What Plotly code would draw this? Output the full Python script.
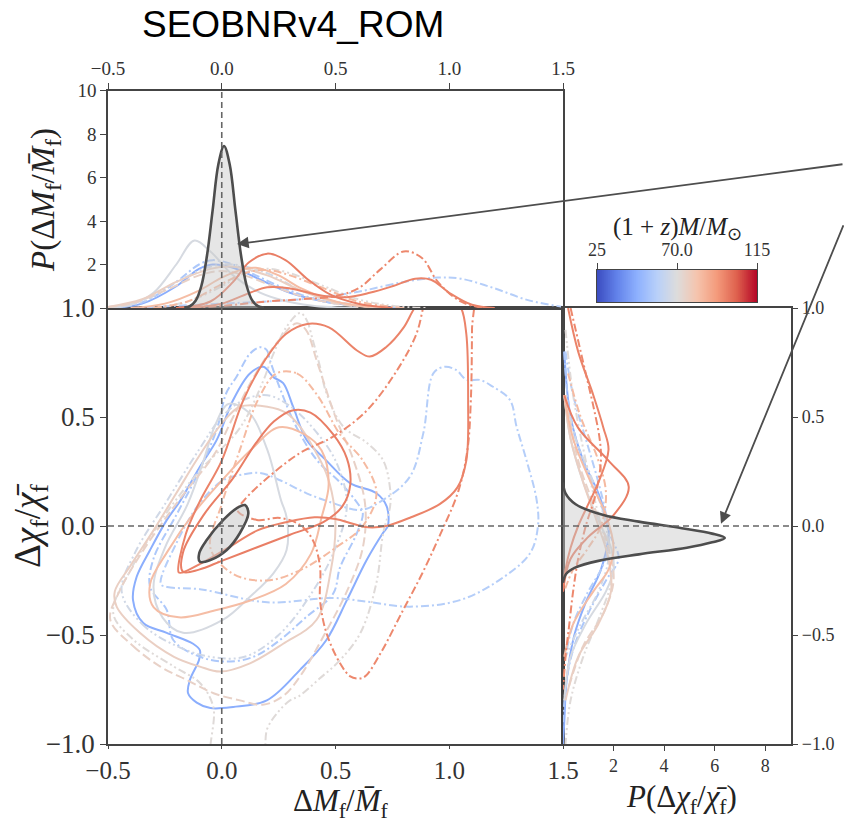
import numpy as np
import plotly.graph_objects as go
from plotly.colors import sample_colorscale

# ---------------------------------------------------------------------------
# Data
# ---------------------------------------------------------------------------
# Redshifted total mass (1+z)M/Msun of each simulated event
masses = [97, 96, 58, 47, 56, 68, 83, 98, 71, 75, 66, 84, 76]

# 90% credible contours in the (dM_f/M_f, dchi_f/chi_f) plane
contour_dm = [
    [-0.189, -0.158, -0.095, 0.0, 0.094, 0.188, 0.282, 0.376, 0.471, 0.596, 0.651, 0.722, 0.80, 0.848, 0.9, 1.0,
     1.052, 1.075, 1.083, 1.075, 1.036, 0.958, 0.832, 0.722, 0.643, 0.58, 0.50, 0.408, 0.282, 0.157, 0.031,
     -0.095, -0.173, -0.189],
    [0.07, 0.154, 0.256, 0.344, 0.40, 0.432, 0.432, 0.46, 0.52, 0.565, 0.60, 0.63, 0.70, 0.79, 0.88, 0.96, 1.04,
     1.08, 1.095, 1.10, 1.10, 1.0, 0.9, 0.885, 0.857, 0.78, 0.638, 0.489, 0.344, 0.2, 0.1, 0.07],
    [-0.268, -0.24, -0.096, 0.2, 0.49, 0.637, 0.827, 1.047, 1.22, 1.355, 1.39, 1.384, 1.34, 1.296, 1.267, 1.19,
     1.135, 1.077, 1.03, 0.978, 0.93, 0.886, 0.827, 0.71, 0.61, 0.49, 0.373, 0.256, 0.168, 0.08, 0.006, -0.1,
     -0.2, -0.268],
    [0.183, 0.227, 0.27, 0.314, 0.373, 0.46, 0.564, 0.68, 0.725, 0.73, 0.71, 0.637, 0.55, 0.46, 0.344, 0.198, 0.05,
     -0.05, -0.11, -0.148, -0.14, -0.10, -0.096, -0.126, -0.242, -0.345, -0.39, -0.374, -0.315, -0.242, -0.18,
     -0.096, -0.022, 0.05, 0.124, 0.183],
    [0.168, 0.198, 0.212, 0.26, 0.33, 0.42, 0.52, 0.6, 0.62, 0.593, 0.52, 0.49, 0.373, 0.256, 0.14, 0.022, -0.096,
     -0.213, -0.242, -0.315, -0.30, -0.2, -0.1, -0.02, 0.02, 0.065, 0.124, 0.168],
    [0.03, 0.12, 0.2, 0.26, 0.285, 0.285, 0.227, 0.124, 0.006, -0.17, -0.26, -0.3, -0.25, -0.15, -0.08, -0.03, 0.03],
    [0.251, 0.361, 0.439, 0.47, 0.439, 0.392, 0.282, 0.125, -0.032, -0.189, -0.299, -0.315, -0.236, -0.126, 0.0,
     0.125, 0.251],
    [0.31, 0.39, 0.49, 0.55, 0.565, 0.53, 0.45, 0.3, 0.15, 0.0, -0.1, -0.17, -0.17, -0.08, 0.05, 0.15, 0.23, 0.31],
    [0.344, 0.373, 0.40, 0.432, 0.46, 0.535, 0.64, 0.71, 0.74, 0.74, 0.71, 0.68, 0.61, 0.52, 0.43, 0.34, 0.30,
     0.25, 0.20, 0.17, -0.037, -0.037, -0.096, -0.21, -0.39, -0.477, -0.40, -0.25, -0.1, 0.08, 0.18, 0.227, 0.285,
     0.344],
    [-0.49, -0.39, -0.27, -0.154, -0.036, 0.08, 0.18, 0.27, 0.344, 0.45, 0.55, 0.62, 0.63, 0.58, 0.5, 0.42, 0.37,
     0.33, 0.25, 0.15, 0.05, -0.032, -0.19, -0.346, -0.45, -0.49],
    [-0.44, -0.35, -0.2, -0.05, 0.1, 0.25, 0.4, 0.5, 0.55, 0.5, 0.4, 0.3, 0.2, 0.1, 0.0, -0.1, -0.25, -0.38, -0.44],
    [0.24, 0.33, 0.42, 0.52, 0.62, 0.68, 0.62, 0.5, 0.35, 0.2, 0.05, -0.05, 0.0, 0.08, 0.16, 0.24],
    [0.08, 0.2, 0.285, 0.344, 0.40, 0.46, 0.49, 0.5, 0.48, 0.417, 0.27, 0.124, -0.007, -0.096, -0.21, -0.36,
     -0.462, -0.47, -0.4, -0.3, -0.2, -0.1, 0.0, 0.08],
]
contour_dchi = [
    [-0.213, -0.037, 0.116, 0.30, 0.575, 0.758, 0.881, 0.927, 0.911, 0.804, 0.777, 0.82, 0.911, 1.0, 1.06, 1.06,
     1.0, 0.881, 0.575, 0.30, 0.177, 0.10, 0.04, 0.0, -0.006, 0.009, 0.032, 0.04, 0.017, -0.02, -0.098, -0.174,
     -0.213, -0.213],
    [0.07, 0.028, 0.037, 0.005, -0.064, -0.188, -0.34, -0.49, -0.63, -0.69, -0.70, -0.69, -0.58, -0.40, -0.22,
     -0.04, 0.16, 0.35, 0.58, 0.9, 1.06, 1.08, 1.06, 1.0, 0.885, 0.73, 0.53, 0.41, 0.335, 0.22, 0.12, 0.07],
    [-0.266, -0.28, -0.29, -0.35, -0.33, -0.347, -0.37, -0.34, -0.248, -0.125, 0.0, 0.12, 0.30, 0.455, 0.578, 0.64,
     0.67, 0.67, 0.716, 0.73, 0.70, 0.426, 0.226, 0.12, 0.073, 0.105, 0.15, 0.21, 0.243, 0.234, 0.21, 0.1, -0.08,
     -0.266],
    [0.73, 0.683, 0.655, 0.546, 0.395, 0.30, 0.197, 0.15, 0.09, 0.0, -0.03, -0.156, -0.34, -0.523, -0.66, -0.80,
     -0.83, -0.835, -0.81, -0.767, -0.706, -0.615, -0.57, -0.54, -0.49, -0.445, -0.34, -0.233, -0.11, 0.027, 0.12,
     0.272, 0.395, 0.578, 0.70, 0.73],
    [0.82, 0.807, 0.76, 0.62, 0.45, 0.30, 0.20, 0.10, 0.06, -0.035, -0.19, -0.31, -0.416, -0.523, -0.60, -0.622,
     -0.60, -0.523, -0.385, -0.28, -0.15, 0.05, 0.25, 0.45, 0.61, 0.685, 0.79, 0.82],
    [0.56, 0.52, 0.35, 0.12, 0.04, -0.11, -0.217, -0.325, -0.43, -0.49, -0.42, -0.28, -0.1, 0.1, 0.3, 0.46, 0.56],
    [0.453, 0.422, 0.346, 0.193, 0.04, -0.128, -0.266, -0.342, -0.388, -0.419, -0.373, -0.266, -0.113, 0.055,
     0.208, 0.346, 0.453],
    [0.53, 0.52, 0.42, 0.31, 0.19, 0.09, 0.02, -0.04, -0.1, -0.16, -0.2, -0.21, -0.12, 0.05, 0.22, 0.38, 0.48, 0.53],
    [0.977, 0.945, 0.853, 0.73, 0.61, 0.455, 0.38, 0.30, 0.17, 0.09, -0.03, -0.26, -0.49, -0.615, -0.70, -0.78,
     -0.80, -0.85, -0.93, -1.1, -1.1, -0.83, -0.72, -0.645, -0.52, -0.40, -0.2, 0.05, 0.25, 0.45, 0.66, 0.79,
     0.914, 0.977],
    [-0.43, -0.55, -0.645, -0.706, -0.767, -0.80, -0.82, -0.78, -0.69, -0.5, -0.3, -0.1, 0.1, 0.3, 0.5, 0.75, 0.9,
     0.93, 0.85, 0.7, 0.5, 0.33, 0.116, -0.113, -0.3, -0.43],
    [-0.3, -0.45, -0.55, -0.6, -0.6, -0.5, -0.3, -0.1, 0.1, 0.3, 0.45, 0.55, 0.6, 0.58, 0.5, 0.35, 0.1, -0.12, -0.3],
    [0.70, 0.70, 0.6, 0.42, 0.3, 0.15, 0.0, -0.1, -0.2, -0.25, -0.22, -0.1, 0.1, 0.35, 0.58, 0.70],
    [0.547, 0.547, 0.518, 0.456, 0.364, 0.24, 0.12, 0.0, -0.2, -0.43, -0.54, -0.63, -0.668, -0.645, -0.6, -0.49,
     -0.37, -0.3, -0.18, -0.02, 0.15, 0.32, 0.47, 0.547],
]

# Marginal posterior of dM_f/M_f for each event
top_dm = [
    [-0.15, 0.0, 0.1, 0.2, 0.3, 0.45, 0.55, 0.65, 0.75, 0.85, 0.92, 1.0, 1.1, 1.2],
    [-0.2, 0.0, 0.2, 0.35, 0.5, 0.6, 0.7, 0.8, 0.88, 0.95, 1.05, 1.15],
    [-0.4, -0.2, 0.0, 0.2, 0.4, 0.6, 0.8, 0.95, 1.05, 1.2, 1.35, 1.5],
    [-0.5, -0.35, -0.2, -0.1, -0.04, 0.05, 0.15, 0.3, 0.45, 0.6, 0.8],
    [-0.5, -0.35, -0.2, -0.1, -0.04, 0.05, 0.15, 0.3, 0.45, 0.6, 0.8],
    [-0.5, -0.4, -0.3, -0.2, -0.12, -0.05, 0.05, 0.15, 0.25, 0.4, 0.6],
    [-0.4, -0.25, -0.1, 0.0, 0.1, 0.15, 0.25, 0.35, 0.5, 0.65],
    [-0.2, -0.05, 0.05, 0.12, 0.2, 0.28, 0.38, 0.48, 0.6, 0.75],
    [-0.3, -0.15, 0.0, 0.1, 0.2, 0.3, 0.45, 0.6, 0.75, 0.9],
    [-0.5, -0.4, -0.25, -0.1, 0.0, 0.1, 0.25, 0.4, 0.6],
    [-0.5, -0.35, -0.2, -0.05, 0.05, 0.2, 0.35, 0.5, 0.7],
    [-0.3, -0.15, 0.0, 0.1, 0.2, 0.3, 0.45, 0.6, 0.8],
    [-0.5, -0.35, -0.2, -0.05, 0.05, 0.2, 0.35, 0.5, 0.7],
]
top_p = [
    [0.0, 0.2, 0.6, 0.95, 0.9, 0.55, 0.5, 0.7, 1.0, 1.35, 1.3, 0.7, 0.15, 0.0],
    [0.0, 0.1, 0.3, 0.4, 0.55, 0.9, 1.8, 2.6, 2.3, 1.2, 0.3, 0.0],
    [0.0, 0.1, 0.2, 0.3, 0.45, 0.75, 1.2, 1.4, 1.35, 0.9, 0.35, 0.05],
    [0.0, 0.2, 1.0, 1.8, 2.0, 1.85, 1.4, 0.7, 0.3, 0.1, 0.0],
    [0.0, 0.25, 1.2, 2.0, 2.2, 2.0, 1.5, 0.8, 0.3, 0.1, 0.0],
    [0.02, 0.15, 0.7, 2.0, 3.1, 2.6, 1.5, 0.8, 0.4, 0.1, 0.0],
    [0.0, 0.2, 0.8, 1.4, 1.8, 1.85, 1.5, 0.9, 0.3, 0.05],
    [0.0, 0.3, 1.2, 2.1, 2.5, 2.2, 1.3, 0.6, 0.2, 0.0],
    [0.0, 0.3, 1.0, 1.6, 1.8, 1.6, 1.0, 0.4, 0.1, 0.0],
    [0.05, 0.2, 0.8, 1.5, 1.7, 1.5, 0.9, 0.4, 0.05],
    [0.05, 0.3, 1.2, 1.9, 2.0, 1.6, 0.8, 0.3, 0.0],
    [0.0, 0.3, 1.1, 1.6, 1.75, 1.5, 0.9, 0.3, 0.0],
    [0.05, 0.4, 1.2, 1.8, 1.9, 1.5, 0.8, 0.25, 0.0],
]

# Marginal posterior of dchi_f/chi_f for each event
right_dchi = [
    [1.0, 0.8, 0.6, 0.45, 0.35, 0.2, 0.1, 0.0, -0.1, -0.2, -0.3],
    [1.0, 0.85, 0.7, 0.55, 0.4, 0.3, 0.15, 0.0, -0.15, -0.3, -0.45, -0.6, -0.75],
    [0.8, 0.6, 0.4, 0.2, 0.05, -0.1, -0.2, -0.3, -0.45, -0.6],
    [0.8, 0.5, 0.3, 0.15, 0.0, -0.05, -0.2, -0.35, -0.5, -0.7, -0.9, -1.0],
    [0.8, 0.5, 0.3, 0.1, -0.05, -0.15, -0.25, -0.4, -0.55, -0.7, -0.9],
    [0.6, 0.4, 0.2, 0.0, -0.1, -0.2, -0.3, -0.45, -0.6, -0.8],
    [0.6, 0.4, 0.2, 0.05, -0.1, -0.2, -0.3, -0.45, -0.6],
    [0.6, 0.45, 0.3, 0.18, 0.05, -0.05, -0.15, -0.3],
    [0.9, 0.6, 0.3, 0.1, -0.1, -0.25, -0.4, -0.6, -0.8, -1.0],
    [0.6, 0.3, 0.1, -0.1, -0.25, -0.4, -0.55, -0.75],
    [0.6, 0.4, 0.2, 0.0, -0.15, -0.3, -0.45, -0.6],
    [0.7, 0.5, 0.3, 0.15, 0.0, -0.1, -0.2, -0.3],
    [0.6, 0.4, 0.2, 0.0, -0.15, -0.3, -0.45, -0.6, -0.8],
]
right_p = [
    [0.2, 0.6, 1.2, 1.6, 1.8, 1.4, 1.0, 0.6, 0.3, 0.1, 0.0],
    [0.3, 0.6, 0.9, 1.2, 1.45, 1.5, 1.3, 0.9, 0.6, 0.4, 0.25, 0.1, 0.0],
    [0.1, 0.4, 0.9, 1.4, 1.7, 1.8, 1.5, 1.0, 0.4, 0.1],
    [0.05, 0.3, 0.8, 1.4, 1.8, 1.8, 1.5, 0.9, 0.45, 0.15, 0.05, 0.0],
    [0.05, 0.3, 0.8, 1.5, 1.9, 2.2, 1.7, 1.0, 0.45, 0.15, 0.0],
    [0.05, 0.3, 0.8, 1.5, 1.9, 2.0, 1.7, 0.9, 0.3, 0.05],
    [0.05, 0.4, 1.1, 1.7, 2.0, 1.8, 1.2, 0.4, 0.05],
    [0.05, 0.6, 1.8, 2.6, 2.0, 1.0, 0.3, 0.0],
    [0.1, 0.4, 0.9, 1.3, 1.7, 1.9, 1.5, 0.8, 0.3, 0.1],
    [0.1, 0.6, 1.2, 1.8, 2.0, 1.6, 0.8, 0.2],
    [0.1, 0.5, 1.2, 1.7, 1.8, 1.4, 0.7, 0.1],
    [0.2, 0.7, 1.4, 1.7, 1.5, 1.0, 0.4, 0.05],
    [0.05, 0.3, 0.8, 1.4, 1.8, 1.9, 1.4, 0.6, 0.1],
]

# Combined (reference) posterior
ref_contour_dm = [0.102, 0.117, 0.08, 0.022, -0.05, -0.096, -0.099, -0.066, 0.007, 0.065, 0.102]
ref_contour_dchi = [0.096, 0.058, -0.032, -0.11, -0.156, -0.164, -0.125, -0.064, 0.028, 0.081, 0.096]
ref_top_dm = [-0.165, -0.14, -0.115, -0.09, -0.065, -0.04, -0.015, 0.01, 0.035, 0.06, 0.085, 0.11, 0.135, 0.16, 0.185]
ref_top_p = [0.02, 0.08, 0.33, 1.0, 2.4, 4.5, 6.6, 7.45, 6.6, 4.5, 2.4, 1.0, 0.33, 0.08, 0.02]
ref_right_dchi = [0.2, 0.15, 0.1, 0.05, 0.02, -0.01, -0.035, -0.055, -0.075, -0.1, -0.13, -0.16, -0.19, -0.22, -0.26]
ref_right_p = [0.0, 0.1, 0.5, 1.6, 3.0, 4.7, 5.9, 6.4, 5.9, 4.9, 3.0, 1.4, 0.5, 0.12, 0.0]

# Arrow targets (data coordinates of the panels they point into)
arrow_top_tip = (0.067, 2.94)
arrow_right_tip = (6.25, 0.01)

mass_min, mass_max = 25, 115
cbar_ticks = [25, 70, 115]
cbar_ticktext = ["25", "70.0", "115"]

# ---------------------------------------------------------------------------
# Styling
# ---------------------------------------------------------------------------
W, H = 844, 821
COOLWARM = [
    [0.0, "rgb(59,76,192)"], [0.125, "rgb(98,130,234)"], [0.25, "rgb(141,176,254)"],
    [0.375, "rgb(184,208,249)"], [0.5, "rgb(221,220,220)"], [0.625, "rgb(245,196,173)"],
    [0.75, "rgb(244,154,123)"], [0.875, "rgb(222,96,77)"], [1.0, "rgb(180,4,38)"],
]
DASHES = {
    "solid": "solid",
    "dashdot": "8px,3px,2px,3px",
    "dash": "9px,4px",
    "dashdotdot": "8px,3px,2px,3px,2px,3px",
}
line_styles = ["solid", "dashdot", "dashdot", "solid", "dashdot", "solid",
               "solid", "solid", "dashdotdot", "dash", "dashdotdot", "dashdot", "solid"]
SERIF = "Liberation Serif"
AX = "#444444"
REF = "#4d4d4d"


def px_x(p):
    return p / W


def px_y(p):
    return 1 - p / H


main_x = [px_x(108), px_x(563)]
main_y = [px_y(744), px_y(308)]
top_y = [px_y(308), px_y(90.5)]
right_x = [px_x(563), px_x(790.5)]
cbar_x = [px_x(597), px_x(757)]
cbar_y = [px_y(302), px_y(270)]

fig = go.Figure()

# draw blue/grey events first so the red ones sit on top
order = sorted(range(len(masses)), key=lambda i: masses[i])
for i in order:
    col = sample_colorscale(COOLWARM, (masses[i] - mass_min) / (mass_max - mass_min))[0]
    ln = dict(color=col, width=2, dash=DASHES[line_styles[i]], shape="spline", smoothing=1.0)
    fig.add_trace(go.Scatter(x=contour_dm[i], y=contour_dchi[i], mode="lines", line=ln,
                             xaxis="x", yaxis="y", hoverinfo="skip", showlegend=False))
    fig.add_trace(go.Scatter(x=top_dm[i], y=top_p[i], mode="lines", line=ln,
                             xaxis="x2", yaxis="y2", hoverinfo="skip", showlegend=False))
    fig.add_trace(go.Scatter(x=right_p[i], y=right_dchi[i], mode="lines", line=ln,
                             xaxis="x3", yaxis="y3", hoverinfo="skip", showlegend=False))

ref_line = dict(color=REF, width=2.6, shape="spline", smoothing=1.0)
fig.add_trace(go.Scatter(x=ref_contour_dm, y=ref_contour_dchi, mode="lines", fill="toself",
                         fillcolor="rgba(200,200,200,0.55)", line=ref_line,
                         xaxis="x", yaxis="y", hoverinfo="skip", showlegend=False))
fig.add_trace(go.Scatter(x=ref_top_dm, y=ref_top_p, mode="lines", fill="tozeroy",
                         fillcolor="rgba(200,200,200,0.45)", line=ref_line,
                         xaxis="x2", yaxis="y2", hoverinfo="skip", showlegend=False))
fig.add_trace(go.Scatter(x=ref_right_p, y=ref_right_dchi, mode="lines", fill="tozerox",
                         fillcolor="rgba(200,200,200,0.45)", line=ref_line,
                         xaxis="x3", yaxis="y3", hoverinfo="skip", showlegend=False))

# colour bar drawn as a one-row heatmap on its own axes
edges = np.linspace(mass_min, mass_max, 241)
centres = 0.5 * (edges[1:] + edges[:-1])
fig.add_trace(go.Heatmap(x=edges, y=[0, 1], z=[centres], colorscale=COOLWARM, zmin=mass_min,
                         zmax=mass_max, showscale=False, xaxis="x4", yaxis="y4", hoverinfo="skip"))

# zero reference lines
dash_line = dict(color="#666666", width=1.6, dash="6px,4px")
fig.add_shape(type="line", xref="x", yref="y", x0=0, x1=0, y0=-1, y1=1, line=dash_line, layer="above")
fig.add_shape(type="line", xref="x2", yref="y2", x0=0, x1=0, y0=0, y1=10, line=dash_line, layer="above")
fig.add_shape(type="line", xref="x", yref="y", x0=-0.5, x1=1.5, y0=0, y1=0, line=dash_line, layer="above")
fig.add_shape(type="line", xref="x3", yref="y3", x0=0, x1=9, y0=0, y1=0, line=dash_line, layer="above")


def axis(**kw):
    base = dict(showgrid=False, zeroline=False, showline=True, linecolor=AX, linewidth=1.5,
                mirror=True, ticks="outside", ticklen=6, tickwidth=1.2, tickcolor=AX,
                automargin=False, tickfont=dict(family=SERIF, size=18, color="#333"))
    base.update(kw)
    return base


fig.update_layout(
    template="none",
    width=W, height=H, autosize=False,
    margin=dict(l=0, r=0, t=0, b=0, pad=0),
    font=dict(family=SERIF, size=18, color="#333"),
    paper_bgcolor="white", plot_bgcolor="rgba(0,0,0,0)",
    xaxis=axis(domain=main_x, range=[-0.5, 1.5], anchor="y", tickvals=[-0.5, 0, 0.5, 1.0, 1.5],
               tickformat=".1f", ticklen=3,
               tickfont=dict(family=SERIF, size=25, color="#333")),
    yaxis=axis(domain=main_y, range=[-1, 1], anchor="x", tickvals=[-1, -0.5, 0, 0.5, 1],
               tickformat=".1f", tickfont=dict(family=SERIF, size=27, color="#333")),
    xaxis2=axis(domain=main_x, range=[-0.5, 1.5], anchor="y2", side="top",
                tickvals=[-0.5, 0, 0.5, 1.0, 1.5], tickformat=".1f",
                tickfont=dict(family=SERIF, size=19, color="#333")),
    yaxis2=axis(domain=top_y, range=[0, 10], anchor="x2", tickvals=[2, 4, 6, 8, 10],
                tickfont=dict(family=SERIF, size=19, color="#333")),
    xaxis3=axis(domain=right_x, range=[0, 9], anchor="y3", tickvals=[2, 4, 6, 8], ticklen=5),
    yaxis3=axis(domain=main_y, range=[-1, 1], anchor="x3", side="right",
                tickvals=[-1, -0.5, 0, 0.5, 1], tickformat=".1f"),
    xaxis4=axis(domain=cbar_x, range=[mass_min, mass_max], anchor="y4", side="top",
                tickvals=cbar_ticks, ticktext=cbar_ticktext, linewidth=1.2),
    yaxis4=axis(domain=cbar_y, range=[0, 1], anchor="x4", ticks="", showticklabels=False,
                linewidth=1.2),
)

ann = []
ann.append(dict(text="SEOBNRv4_ROM", x=px_x(293), y=px_y(25), xref="paper", yref="paper",
                showarrow=False, font=dict(family="Liberation Sans", size=37, color="black"),
                xanchor="center", yanchor="middle"))
ann.append(dict(text="Δ<i>M</i><sub>f</sub>/<i>M̄</i><sub>f</sub>", x=px_x(340), y=px_y(803),
                xref="paper", yref="paper", showarrow=False,
                font=dict(family=SERIF, size=31, color="#222"),
                xanchor="center", yanchor="middle"))
ann.append(dict(text="Δ<i>χ</i><sub>f</sub>/<i>χ̄</i><sub>f</sub>", x=px_x(30), y=px_y(526),
                xref="paper", yref="paper", showarrow=False,
                font=dict(family=SERIF, size=37, color="#222"), textangle=-90,
                xanchor="center", yanchor="middle"))
ann.append(dict(text="<i>P</i>(Δ<i>M</i><sub>f</sub>/<i>M̄</i><sub>f</sub>)", x=px_x(45), y=px_y(200),
                xref="paper", yref="paper", showarrow=False,
                font=dict(family=SERIF, size=33, color="#222"), textangle=-90,
                xanchor="center", yanchor="middle"))
ann.append(dict(text="<i>P</i>(Δ<i>χ</i><sub>f</sub>/<i>χ̄</i><sub>f</sub>)", x=px_x(681), y=px_y(799),
                xref="paper", yref="paper", showarrow=False,
                font=dict(family=SERIF, size=31, color="#222"),
                xanchor="center", yanchor="middle"))
ann.append(dict(text="(1 + <i>z</i>)<i>M</i>/<i>M</i><sub>⊙</sub>", x=px_x(677), y=px_y(228),
                xref="paper", yref="paper", showarrow=False,
                font=dict(family=SERIF, size=25, color="#222"), xanchor="center", yanchor="middle"))
# arrows from the combined result into the marginal panels
ann.append(dict(text="", x=arrow_top_tip[0], y=arrow_top_tip[1], xref="x2", yref="y2",
                ax=614, ay=-80, showarrow=True, arrowhead=2, arrowsize=1.3, arrowwidth=1.8,
                arrowcolor=REF))
ann.append(dict(text="", x=arrow_right_tip[0], y=arrow_right_tip[1], xref="x3", yref="y3",
                ax=130, ay=-300, showarrow=True, arrowhead=2, arrowsize=1.3, arrowwidth=1.8,
                arrowcolor=REF))
fig.update_layout(annotations=ann)

fig.write_html("out.html")
